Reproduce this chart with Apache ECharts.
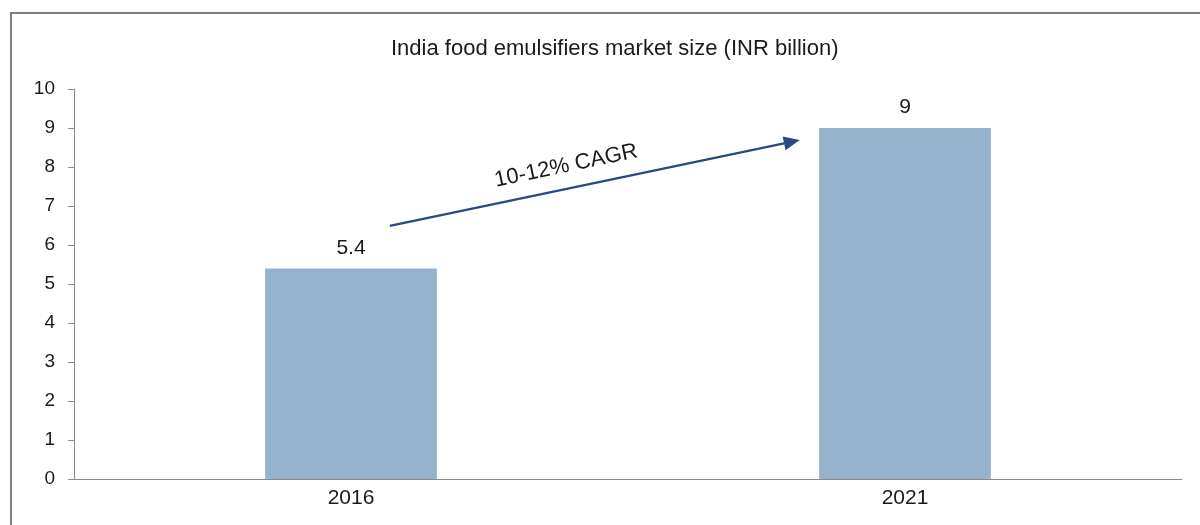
<!DOCTYPE html>
<html><head><meta charset="utf-8">
<script src="https://cdn.jsdelivr.net/npm/echarts@6/dist/echarts.min.js"></script>
<style>html,body{margin:0;padding:0;background:#fff}#c{width:1200px;height:525px}</style>
</head><body><div id="c"></div>
<script>
const categories = ['2016', '2021'];
const values = [5.4, 9];
const yTicks = [0, 10, 1];
const titleText = 'India food emulsifiers market size (INR billion)';
const cagrText = '10-12% CAGR';
const arrowFrom = [0.07, 6.49]; // fractional category position, value
const arrowTo = [0.81, 8.69];

const chart = echarts.init(document.getElementById('c'), null, {renderer: 'canvas'});
const font = 'Liberation Sans, Arial, sans-serif';
chart.setOption({
  animation: false,
  title: {text: titleText, left: 386, top: 33,
    textStyle: {fontFamily: font, fontSize: 22, fontWeight: 'normal', color: '#1a1a1a'}},
  grid: {left: 74, right: 18, top: 89, bottom: 46},
  xAxis: {type: 'category', data: categories,
    axisLine: {lineStyle: {color: '#8a8a8a', width: 1}},
    axisTick: {show: false},
    axisLabel: {fontFamily: font, fontSize: 21, color: '#1a1a1a', margin: 9}},
  yAxis: {type: 'value', min: yTicks[0], max: yTicks[1], interval: yTicks[2],
    axisLine: {show: true, lineStyle: {color: '#8a8a8a', width: 1}},
    axisTick: {show: true, length: 6, lineStyle: {color: '#8a8a8a'}},
    splitLine: {show: false},
    axisLabel: {fontFamily: font, fontSize: 19, color: '#1a1a1a', margin: 19}},
  series: [{type: 'bar', data: values, barWidth: '31%',
    itemStyle: {color: '#95b3cd'},
    label: {show: true, position: 'top', distance: 10, fontFamily: font, fontSize: 21, color: '#1a1a1a'}}]
});

function px(p) {
  const a = chart.convertToPixel({gridIndex: 0}, [0, p[1]]);
  const b = chart.convertToPixel({gridIndex: 0}, [1, p[1]]);
  return [a[0] + p[0] * (b[0] - a[0]), a[1]];
}
const s = px(arrowFrom), e = px(arrowTo);
const ang = Math.atan2(e[1] - s[1], e[0] - s[0]);
const hl = 16, hw = 7;
const bx = e[0] - hl * Math.cos(ang), by = e[1] - hl * Math.sin(ang);
const nx = -Math.sin(ang), ny = Math.cos(ang);
const mid = [s[0] + 0.43 * (e[0] - s[0]), s[1] + 0.43 * (e[1] - s[1])];
chart.setOption({
  graphic: [
    {type: 'rect', shape: {x: 11, y: 13, width: 1200, height: 600},
      style: {fill: 'none', stroke: '#7f7f7f', lineWidth: 2}, silent: true},
    {type: 'line', shape: {x1: s[0], y1: s[1], x2: bx, y2: by},
      style: {stroke: '#284a80', lineWidth: 2.2}},
    {type: 'polygon', shape: {points: [[e[0], e[1]], [bx + nx * hw, by + ny * hw], [bx - nx * hw, by - ny * hw]]},
      style: {fill: '#284a80'}},
    {type: 'text', x: mid[0], y: mid[1] - 23, rotation: -ang,
      style: {text: cagrText, fontFamily: font, fontSize: 22, fill: '#1a1a1a', align: 'center', verticalAlign: 'middle'}}
  ]
});
</script></body></html>
